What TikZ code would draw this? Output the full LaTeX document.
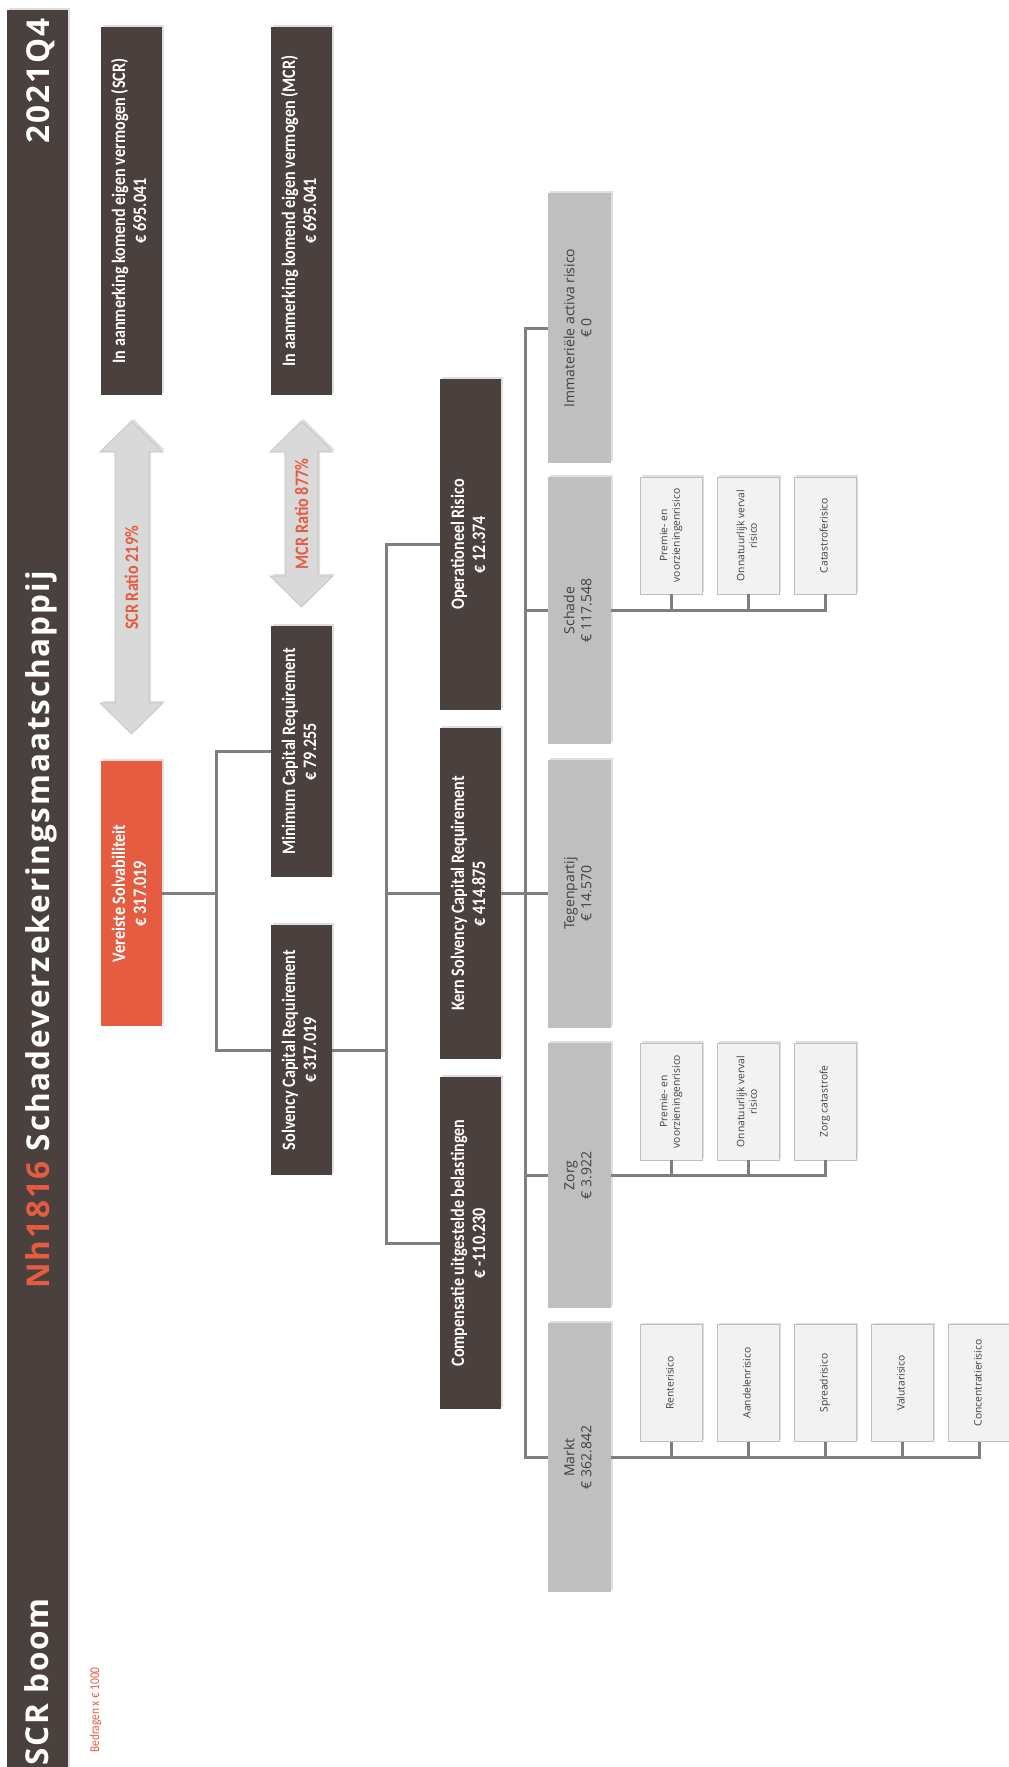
\documentclass[tikz,border=0pt]{standalone}
\usepackage{fontspec}
\setmainfont{Carlito}
\newfontfamily\titlefont[LetterSpace=6]{Open Sans}
\newfontfamily\boxfont[FakeStretch=0.85]{Carlito}
\newfontfamily\smallfont{Open Sans}
\usetikzlibrary{shadows}
\definecolor{dk}{HTML}{4A403D}
\definecolor{org}{HTML}{E65C40}
\definecolor{gbox}{HTML}{BFBFBF}
\definecolor{leafc}{HTML}{F2F2F2}
\definecolor{arrc}{HTML}{D9D9D9}
\definecolor{connc}{HTML}{7F7F7F}
\definecolor{gtxt}{HTML}{404040}
\newcommand\rtxt[1]{\rotatebox{90}{\begin{tabular}{@{}c@{}}#1\end{tabular}}}
\tikzset{
  shad/.style={drop shadow={shadow xshift=2pt, shadow yshift=2pt, opacity=0.25}},
  darkbox/.style={fill=dk, text=white, inner sep=0pt, minimum width=61pt,
    font=\boxfont\bfseries\fontsize{19}{21}\selectfont, shad},
  graybox/.style={fill=gbox, text=gtxt, inner sep=0pt, minimum width=63pt,
    font=\smallfont\fontsize{14}{17}\selectfont, shad},
  leafbox/.style={fill=leafc, draw=gbox, line width=0.8pt, text=gtxt, inner sep=0pt,
    minimum width=62pt, minimum height=117pt,
    font=\smallfont\fontsize{10.3}{12.5}\selectfont, shad},
  cn/.style={draw=connc, line width=3pt},
  dblarrow/.style={fill=arrc, draw=gbox, line width=0.6pt, shad},
  ttl/.style={rotate=90, inner sep=0pt, text=white, font=\titlefont\bfseries\fontsize{31.5}{36}\selectfont},
  ratio/.style={rotate=90, inner sep=0pt, anchor=base, text=org,
    font=\boxfont\bfseries\fontsize{19}{21}\selectfont},
}
\begin{document}
\begin{tikzpicture}[x=1pt, y=-1pt]
\useasboundingbox (0,0) rectangle (1009,1767);

% title bar
\node[fill=dk, inner sep=0pt, minimum width=61pt, minimum height=1780pt, shad] (bar) at (37.5,900) {};
\node[ttl, anchor=base] (tq) at (49,81) {2021Q4};
\node[ttl, anchor=base west] (tmain) at (49,1289) {\textcolor{org}{Nh1816} Schadeverzekeringsmaatschappij};
\node[ttl, anchor=base west] (tboom) at (48,1766) {SCR boom};
\node[rotate=90, inner sep=0pt, anchor=base west, text=org, font=\boxfont\fontsize{13.4}{15}\selectfont] (bedr) at (99,1753) {Bedragen x € 1000};

% own funds boxes
\node[darkbox, minimum height=368pt] (evscr) at (131.5,211) {\rtxt{In aanmerking komend eigen vermogen (SCR)\\€ 695.041}};
\node[darkbox, minimum height=368pt] (evmcr) at (301.5,211) {\rtxt{In aanmerking komend eigen vermogen (MCR)\\€ 695.041}};

% double arrows
\path[dblarrow] (131.5,421) -- (163,452) -- (149,452) -- (149,703) -- (163,703) -- (131.5,734)
  -- (100,703) -- (115,703) -- (115,452) -- (100,452) -- cycle;
\path[dblarrow] (301.5,421) -- (333,452) -- (318,452) -- (318,576) -- (333,576) -- (301.5,607)
  -- (270,576) -- (285,576) -- (285,452) -- (270,452) -- cycle;
\node[ratio] (rscr) at (138,578) {SCR Ratio 219\%};
\node[ratio] (rmcr) at (308,514) {MCR Ratio 877\%};

% level 1-2
\node[darkbox, fill=org, minimum height=265pt] (vs) at (131.5,893.5) {\rtxt{Vereiste Solvabiliteit\\€ 317.019}};
\node[darkbox, minimum height=251pt] (mcr) at (301.5,751.5) {\rtxt{Minimum Capital Requirement\\€ 79.255}};
\node[darkbox, minimum height=250pt] (scr) at (301.5,1050) {\rtxt{Solvency Capital Requirement\\€ 317.019}};
\node[darkbox, minimum height=331pt] (op) at (470.5,544.5) {\rtxt{Operationeel Risico\\€ 12.374}};
\node[darkbox, minimum height=331pt] (kern) at (470.5,893.5) {\rtxt{Kern Solvency Capital Requirement\\€ 414.875}};
\node[darkbox, minimum height=332pt] (comp) at (470.5,1243) {\rtxt{Compensatie uitgestelde belastingen\\€ -110.230}};

% level 3
\node[graybox, minimum height=270pt] (imm) at (579.5,328) {\rtxt{Immateriële activa risico\\€ 0}};
\node[graybox, minimum height=267pt] (schade) at (579.5,610.5) {\rtxt{Schade\\€ 117.548}};
\node[graybox, minimum height=268pt] (tegen) at (579.5,893.5) {\rtxt{Tegenpartij\\€ 14.570}};
\node[graybox, minimum height=265pt] (zorg) at (579.5,1175.5) {\rtxt{Zorg\\€ 3.922}};
\node[graybox, minimum height=269pt] (markt) at (579.5,1457.5) {\rtxt{Markt\\€ 362.842}};

% leaves
\node[leafbox] (s1) at (671,535.5) {\rtxt{Premie- en\\voorzieningenrisico}};
\node[leafbox] (s2) at (748,535.5) {\rtxt{Onnatuurlijk verval\\risico}};
\node[leafbox] (s3) at (825,535.5) {\rtxt{Catastroferisico}};
\node[leafbox] (z1) at (671,1101.5) {\rtxt{Premie- en\\voorzieningenrisico}};
\node[leafbox] (z2) at (748,1101.5) {\rtxt{Onnatuurlijk verval\\risico}};
\node[leafbox] (z3) at (825,1101.5) {\rtxt{Zorg catastrofe}};
\node[leafbox] (m1) at (671,1383) {\rtxt{Renterisico}};
\node[leafbox] (m2) at (748,1383) {\rtxt{Aandelenrisico}};
\node[leafbox] (m3) at (825,1383) {\rtxt{Spreadrisico}};
\node[leafbox] (m4) at (902,1383) {\rtxt{Valutarisico}};
\node[leafbox] (m5) at (979,1383) {\rtxt{Concentratierisico}};

% connectors
\coordinate (j1) at (216,893.5);
\draw[cn] (vs.east) -- (j1);
\draw[cn] (mcr.west) -| (j1);
\draw[cn] (scr.west) -| (j1);
\coordinate (j2) at (386,1050);
\draw[cn] (scr.east) -- (j2);
\draw[cn] (op.west) -| (j2);
\draw[cn] (kern.west) -| (j2);
\draw[cn] (comp.west) -| (j2);
\coordinate (j3) at (525,893.5);
\draw[cn] (kern.east) -- (j3);
\draw[cn] (imm.west) -| (j3);
\draw[cn] (schade.west) -| (j3);
\draw[cn] (tegen.west) -| (j3);
\draw[cn] (zorg.west) -| (j3);
\draw[cn] (markt.west) -| (j3);

\draw[cn] (schade.east) -| (s3.south);
\draw[cn] (s1.south) -- (s1.south |- schade.east);
\draw[cn] (s2.south) -- (s2.south |- schade.east);
\draw[cn] (zorg.east) -| (z3.south);
\draw[cn] (z1.south) -- (z1.south |- zorg.east);
\draw[cn] (z2.south) -- (z2.south |- zorg.east);
\draw[cn] (markt.east) -| (m5.south);
\draw[cn] (m1.south) -- (m1.south |- markt.east);
\draw[cn] (m2.south) -- (m2.south |- markt.east);
\draw[cn] (m3.south) -- (m3.south |- markt.east);
\draw[cn] (m4.south) -- (m4.south |- markt.east);
\end{tikzpicture}
\end{document}
